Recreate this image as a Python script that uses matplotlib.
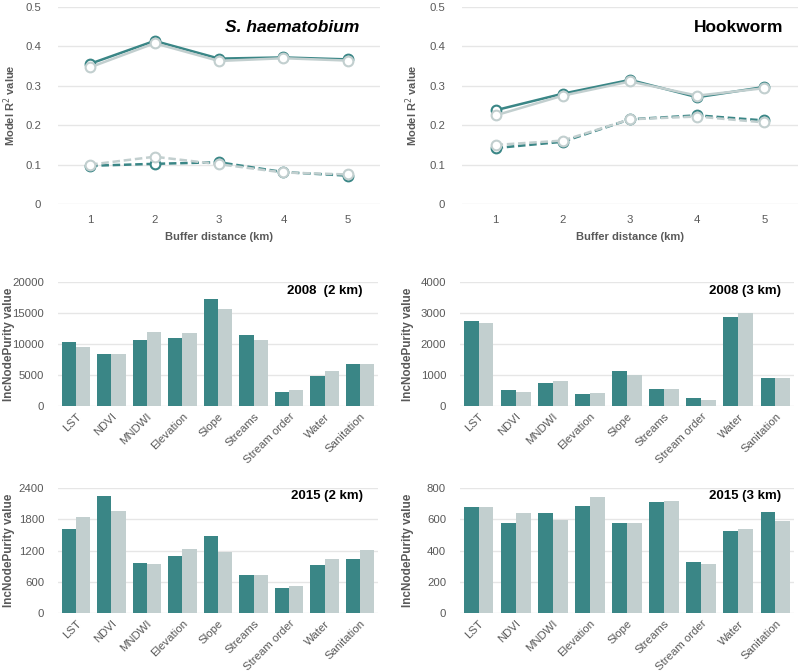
import matplotlib
matplotlib.use("Agg")
import matplotlib.pyplot as plt
import numpy as np

plt.rcParams['font.family'] = ['Liberation Sans', 'DejaVu Sans']

TEAL = '#3a8686'
GREY = '#c2cfcf'
TXT = '#595959'
GRID = '#e6e6e6'

buffers = [1, 2, 3, 4, 5]

# S. haematobium
sh_solid_a = [0.356, 0.414, 0.369, 0.372, 0.367]
sh_solid_b = [0.347, 0.408, 0.363, 0.370, 0.364]
sh_dash_a = [0.097, 0.102, 0.106, 0.081, 0.072]
sh_dash_b = [0.100, 0.120, 0.101, 0.080, 0.075]

# Hookworm
hw_solid_a = [0.238, 0.280, 0.315, 0.271, 0.297]
hw_solid_b = [0.225, 0.275, 0.311, 0.275, 0.294]
hw_dash_a = [0.142, 0.158, 0.215, 0.225, 0.212]
hw_dash_b = [0.150, 0.161, 0.215, 0.222, 0.207]

categories = ['LST', 'NDVI', 'MNDWI', 'Elevation', 'Slope', 'Streams',
              'Stream order', 'Water', 'Sanitation']

b2008_2_a = [10300, 8460, 10570, 10940, 17300, 11480, 2200, 4900, 6790]
b2008_2_b = [9500, 8360, 11970, 11800, 15630, 10670, 2590, 5660, 6790]

b2008_3_a = [2745, 515, 750, 400, 1130, 560, 270, 2860, 900]
b2008_3_b = [2670, 440, 795, 430, 1010, 540, 195, 3000, 900]

b2015_2_a = [1613, 2253, 960, 1088, 1472, 736, 486, 915, 1043]
b2015_2_b = [1843, 1952, 934, 1235, 1165, 736, 512, 1043, 1216]

b2015_3_a = [680, 576, 640, 685, 576, 708, 326, 527, 648]
b2015_3_b = [680, 640, 597, 745, 578, 717, 314, 540, 591]

W, H = 800, 672
fig = plt.figure(figsize=(W / 100, H / 100), dpi=100)


def style(ax):
    for s in ax.spines.values():
        s.set_visible(False)
    ax.grid(axis='y', color=GRID, linewidth=1)
    ax.set_axisbelow(True)
    ax.tick_params(axis='both', length=0, colors=TXT, labelsize=8.2)


def ylabel(ax, text, xpx, size):
    pos = ax.get_position()
    fig.text(xpx / W, pos.y0 + pos.height / 2, text, rotation=90, ha='center', va='center',
             fontsize=size, fontweight='bold', color=TXT)


def line_panel(rect, sa, sb, da, db, title, italic, tx, ylx):
    ax = fig.add_axes(rect)
    style(ax)
    mk = dict(marker='o', markersize=7, markerfacecolor='white', markeredgewidth=1.5)
    ax.plot(buffers, sa, color=TEAL, lw=1.8, markeredgecolor=TEAL, **mk)
    ax.plot(buffers, sb, color=GREY, lw=1.8, markeredgecolor=GREY, **mk)
    ax.plot(buffers, da, color=TEAL, lw=1.8, ls=(0, (3, 1.5)), markeredgecolor=TEAL, **mk)
    ax.plot(buffers, db, color=GREY, lw=1.8, ls=(0, (3, 1.5)), markeredgecolor=GREY, **mk)
    ax.set_xlim(0.5, 5.5)
    ax.set_ylim(0, 0.5)
    ax.set_xticks(buffers)
    ax.set_yticks([0, 0.1, 0.2, 0.3, 0.4, 0.5])
    ax.set_yticklabels(['0', '0.1', '0.2', '0.3', '0.4', '0.5'])
    ax.tick_params(axis='x', pad=8)
    ax.tick_params(axis='y', pad=12)
    ax.set_xlabel('Buffer distance (km)', fontsize=8, fontweight='bold', color=TXT, labelpad=5)
    ylabel(ax, 'Model R$^2$ value', ylx, 8)
    ax.text(tx, 0.895, title, transform=ax.transAxes, ha='right', va='center',
            fontsize=12.5, fontweight='bold', style='italic' if italic else 'normal')
    return ax


def bar_panel(rect, a, b, ymax, yticks, title, tx, ty, ylx):
    ax = fig.add_axes(rect)
    style(ax)
    x = np.arange(len(categories))
    w = 0.4
    ax.bar(x - w / 2, a, w, color=TEAL)
    ax.bar(x + w / 2, b, w, color=GREY)
    ax.set_xlim(-0.5, len(categories) - 0.5)
    ax.set_ylim(0, ymax)
    ax.set_yticks(yticks)
    ax.set_xticks(x)
    ax.set_xticklabels(categories, rotation=45, ha='right', rotation_mode='anchor')
    ax.tick_params(axis='x', pad=4)
    ax.tick_params(axis='y', pad=10)
    ylabel(ax, 'IncNodePurity value', ylx, 8.5)
    ax.text(tx, ty, title, transform=ax.transAxes, ha='right', va='center',
            fontsize=9.5, fontweight='bold')
    return ax


line_panel([0.0725, 0.6964, 0.4025, 0.2932], sh_solid_a, sh_solid_b, sh_dash_a, sh_dash_b,
           'S. haematobium', True, 0.935, 10)
line_panel([0.5775, 0.6964, 0.42, 0.2932], hw_solid_a, hw_solid_b, hw_dash_a, hw_dash_b,
           'Hookworm', False, 0.955, 412)

bar_panel([0.0725, 0.3958, 0.40, 0.1845], b2008_2_a, b2008_2_b, 20000,
          [0, 5000, 10000, 15000, 20000], '2008  (2 km)', 0.953, 0.927, 9)
bar_panel([0.575, 0.3958, 0.4175, 0.1845], b2008_3_a, b2008_3_b, 4000,
          [0, 1000, 2000, 3000, 4000], '2008 (3 km)', 0.961, 0.927, 408)
bar_panel([0.0725, 0.0878, 0.40, 0.186], b2015_2_a, b2015_2_b, 2400,
          [0, 600, 1200, 1800, 2400], '2015 (2 km)', 0.953, 0.936, 9)
bar_panel([0.575, 0.0878, 0.4175, 0.186], b2015_3_a, b2015_3_b, 800,
          [0, 200, 400, 600, 800], '2015 (3 km)', 0.961, 0.936, 408)

fig.savefig('out.png', dpi=100)
